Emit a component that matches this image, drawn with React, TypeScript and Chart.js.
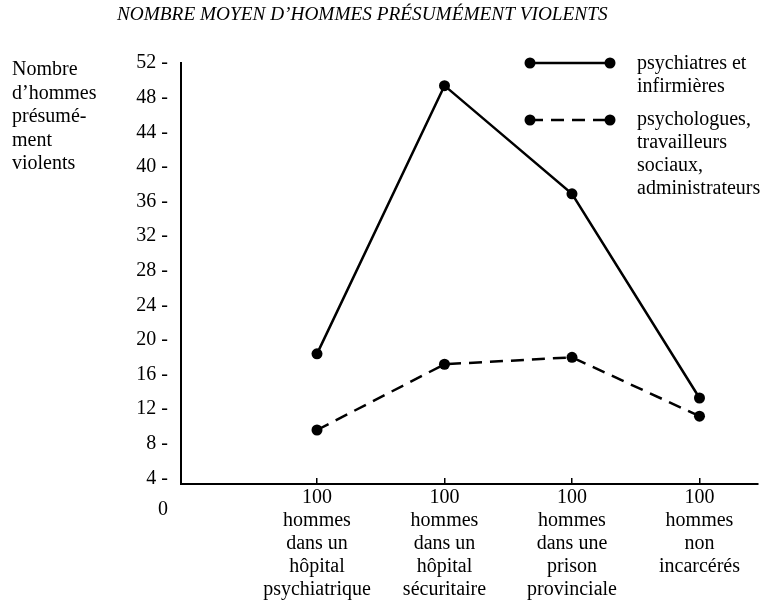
import React, { useEffect, useRef } from 'react';
import { Chart, registerables } from 'chart.js';

Chart.register(...registerables);

const FONT = "'Liberation Serif', 'Times New Roman', serif";

const chartTitle = 'NOMBRE MOYEN D’HOMMES PRÉSUMÉMENT VIOLENTS';
const yAxisTitle = ['Nombre', 'd’hommes', 'présumé-', 'ment', 'violents'];

const categoryPositions = [1, 2, 3, 4];
const categoryLabels = [
  ['100', 'hommes', 'dans un', 'hôpital', 'psychiatrique'],
  ['100', 'hommes', 'dans un', 'hôpital', 'sécuritaire'],
  ['100', 'hommes', 'dans une', 'prison', 'provinciale'],
  ['100', 'hommes', 'non', 'incarcérés'],
];

const psychiatresValues = [18.4, 49.4, 36.9, 13.3];
const psychologuesValues = [9.6, 17.2, 18.0, 11.2];

const psychiatresLabel = ['psychiatres et', 'infirmières'];
const psychologuesLabel = ['psychologues,', 'travailleurs', 'sociaux,', 'administrateurs'];

const yTickValues = [0, 4, 8, 12, 16, 20, 24, 28, 32, 36, 40, 44, 48, 52];

const legendLayout = [
  { symbolY: 63, firstBaseline: 69 },
  { symbolY: 120, firstBaseline: 125 },
];

const decorPlugin = {
  id: 'decor',
  afterDraw(chart: any) {
    const { ctx } = chart;
    const yScale = chart.scales.y;
    ctx.save();
    ctx.fillStyle = '#000';
    ctx.strokeStyle = '#000';
    ctx.font = `20px ${FONT}`;

    // y axis title (horizontal, top-left)
    ctx.textAlign = 'left';
    ctx.textBaseline = 'alphabetic';
    yAxisTitle.forEach((t, i) => ctx.fillText(t, 12, 75 + i * 23.5));

    // ticks below the axis break (the "0")
    ctx.textAlign = 'right';
    ctx.textBaseline = 'middle';
    yTickValues
      .filter((v) => v < yScale.min)
      .forEach((v) => ctx.fillText(String(v), 168, yScale.getPixelForValue(v) - 3));

    // legend
    chart.data.datasets.forEach((ds: any, i: number) => {
      const lay = legendLayout[i];
      const x1 = 530;
      const x2 = 610;
      ctx.lineWidth = 2.5;
      ctx.setLineDash(ds.borderDash || []);
      ctx.beginPath();
      ctx.moveTo(x1, lay.symbolY);
      ctx.lineTo(x2, lay.symbolY);
      ctx.stroke();
      ctx.setLineDash([]);
      [x1, x2].forEach((x) => {
        ctx.beginPath();
        ctx.arc(x, lay.symbolY, 5.5, 0, Math.PI * 2);
        ctx.fill();
      });
      ctx.textAlign = 'left';
      ctx.textBaseline = 'alphabetic';
      (ds.legendLines as string[]).forEach((t, j) => ctx.fillText(t, 637, lay.firstBaseline + j * 23));
    });
    ctx.restore();
  },
};

export default function App() {
  const canvasRef = useRef<HTMLCanvasElement | null>(null);

  useEffect(() => {
    if (!canvasRef.current) return;
    const chart = new Chart(canvasRef.current, {
      type: 'line',
      data: {
        datasets: [
          {
            label: psychiatresLabel.join(' '),
            legendLines: psychiatresLabel,
            data: categoryPositions.map((x, i) => ({ x, y: psychiatresValues[i] })),
            borderColor: '#000',
            backgroundColor: '#000',
            borderWidth: 2.5,
            pointRadius: 5.5,
            pointBorderWidth: 0,
            pointBackgroundColor: '#000',
            tension: 0,
          } as any,
          {
            label: psychologuesLabel.join(' '),
            legendLines: psychologuesLabel,
            data: categoryPositions.map((x, i) => ({ x, y: psychologuesValues[i] })),
            borderColor: '#000',
            backgroundColor: '#000',
            borderWidth: 2.5,
            borderDash: [13, 8],
            pointRadius: 5.5,
            pointBorderWidth: 0,
            pointBackgroundColor: '#000',
            tension: 0,
          } as any,
        ],
      },
      options: {
        animation: false,
        responsive: false,
        layout: { padding: { left: 117, right: 22, top: 0, bottom: 0 } },
        plugins: {
          legend: { display: false },
          tooltip: { enabled: false },
          title: {
            display: true,
            text: chartTitle,
            align: 'start',
            color: '#000',
            font: { family: FONT, size: 19.3, style: 'italic', weight: 'normal' },
            padding: { top: 3, bottom: 37 },
          },
        },
        scales: {
          x: {
            type: 'linear',
            min: -0.0667,
            max: 4.459,
            afterBuildTicks: (scale: any) => {
              scale.ticks = categoryPositions.map((v) => ({ value: v }));
            },
            afterFit: (scale: any) => {
              scale.height = 127;
            },
            grid: {
              display: true,
              drawOnChartArea: false,
              drawTicks: true,
              tickLength: -6,
              color: '#000',
              lineWidth: 1.5,
            },
            border: { display: true, color: '#000', width: 2 },
            ticks: {
              autoSkip: false,
              maxRotation: 0,
              minRotation: 0,
              padding: 8,
              color: '#000',
              font: { family: FONT, size: 20, lineHeight: 1.15 },
              callback: (value: any) => {
                const idx = categoryPositions.indexOf(Number(value));
                return idx >= 0 ? categoryLabels[idx] : '';
              },
            },
          },
          y: {
            type: 'linear',
            min: 3.36,
            max: 52,
            afterBuildTicks: (scale: any) => {
              scale.ticks = yTickValues.filter((v) => v >= scale.min).map((v) => ({ value: v }));
            },
            afterFit: (scale: any) => {
              scale.width = 64;
            },
            grid: { display: false },
            border: { display: true, color: '#000', width: 2 },
            ticks: {
              autoSkip: false,
              padding: 5,
              color: '#000',
              font: { family: FONT, size: 20 },
              callback: (value: any) => `${value} -`,
            },
          },
        },
      } as any,
      plugins: [decorPlugin],
    });
    return () => chart.destroy();
  }, []);

  return (
    <div style={{ position: 'fixed', left: 0, top: 0, width: 780, height: 611, background: '#fff' }}>
      <canvas ref={canvasRef} width={780} height={611} style={{ display: 'block' }} />
    </div>
  );
}
